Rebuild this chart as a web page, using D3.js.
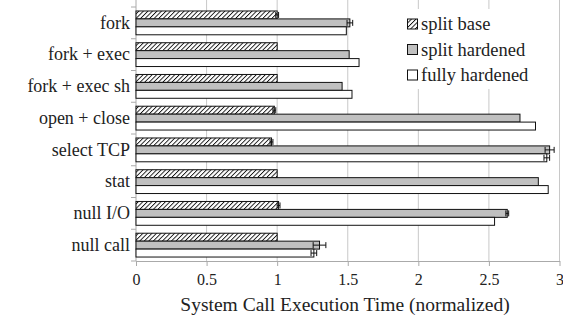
<!DOCTYPE html>
<html>
<head>
<meta charset="UTF-8">
<script src="https://d3js.org/d3.v7.min.js"></script>
</head>
<body style="margin:0">
<svg id="chart" width="563" height="324"></svg>
<script>
const categories = ["fork", "fork + exec", "fork + exec sh", "open + close", "select TCP", "stat", "null I/O", "null call"];
const seriesNames = ["split base", "split hardened", "fully hardened"];
const splitBase = [1.0, 1.0, 1.0, 0.98, 0.96, 1.0, 1.01, 1.0];
const splitBaseErr = [0.01, 0, 0, 0.01, 0.01, 0, 0.01, 0];
const splitHardened = [1.515, 1.51, 1.46, 2.72, 2.93, 2.85, 2.63, 1.30];
const splitHardenedErr = [0.02, 0, 0, 0, 0.032, 0, 0.01, 0.045];
const fullyHardened = [1.49, 1.58, 1.53, 2.83, 2.91, 2.92, 2.54, 1.26];
const fullyHardenedErr = [0, 0, 0, 0, 0.02, 0, 0, 0.02];
const xTicks = [0, 0.5, 1, 1.5, 2, 2.5, 3];

const serif = '"Liberation Serif"';
const svg = d3.select("#chart").style("display", "block");
const mLeft = 136, mRight = 559.5, mTop = 7, mBottom = 261;

// serif text helper
const setFont = (sel, size) => sel
  .attr("font-family", "Liberation Serif")
  .style("font-family", serif, "important")
  .style("font-size", size + "px", "important")
  .attr("fill", "#222");

// hatch pattern for split base
const defs = svg.append("defs");
defs.append("pattern")
    .attr("id", "hatch")
    .attr("patternUnits", "userSpaceOnUse")
    .attr("width", 3.2).attr("height", 3.2)
    .attr("patternTransform", "rotate(45)")
  .call(p => {
    p.append("rect").attr("width", 3.2).attr("height", 3.2).attr("fill", "#fff");
    p.append("line").attr("x1", 0).attr("y1", 0).attr("x2", 0).attr("y2", 3.2)
      .attr("stroke", "#111").attr("stroke-width", 1.8);
  });

const fills = ["url(#hatch)", "#c0c0c0", "#fff"];

const x = d3.scaleLinear().domain([0, 3]).range([mLeft, mRight]);
const y = d3.scaleBand().domain(categories).range([mTop, mBottom])
    .paddingInner(0.25).paddingOuter(0.125);
const ySub = d3.scaleBand().domain(d3.range(3)).range([0, y.bandwidth()]);

// gridlines
svg.append("g").selectAll("line")
  .data(xTicks.filter(d => d > 0))
  .join("line")
    .attr("x1", d => x(d)).attr("x2", d => x(d))
    .attr("y1", 0).attr("y2", mBottom)
    .attr("stroke", "#c8c8c8").attr("stroke-width", 1);

// bottom axis
const xAxis = svg.append("g")
    .attr("transform", `translate(0,${mBottom})`)
    .call(d3.axisBottom(x).tickValues(xTicks).tickFormat(d => d).tickSize(5).tickSizeOuter(0).tickPadding(8));
xAxis.attr("font-family", null).attr("font-size", null);
xAxis.select(".domain").attr("stroke", "#aaa");
xAxis.selectAll(".tick line").attr("stroke", "#aaa");
setFont(xAxis.selectAll("text"), 16);

// left axis
const yAxis = svg.append("g")
    .attr("transform", `translate(${mLeft},0)`)
    .call(d3.axisLeft(y).tickSize(0).tickPadding(6));
yAxis.attr("font-family", null).attr("font-size", null);
yAxis.select(".domain").attr("stroke", "#aaa").attr("d", `M0,0V${mBottom}`);
setFont(yAxis.selectAll("text"), 18);
const step = y.step();
svg.append("g").selectAll("line")
  .data(d3.range(categories.length + 1))
  .join("line")
    .attr("x1", mLeft - 5).attr("x2", mLeft)
    .attr("y1", i => mTop + i * step).attr("y2", i => mTop + i * step)
    .attr("stroke", "#aaa");

// legend box
const legend = svg.append("g");
legend.append("rect").attr("x", 401).attr("y", 9).attr("width", 158).attr("height", 80).attr("fill", "#fff");
seriesNames.forEach((name, i) => {
  const ly = 24 + i * 25.5;
  legend.append("rect").attr("x", 407.5).attr("y", ly - 5).attr("width", 10).attr("height", 10)
    .attr("fill", fills[i]).attr("stroke", "#111").attr("stroke-width", 1);
  setFont(legend.append("text").attr("x", 421).attr("y", ly).attr("dy", "0.35em"), 18.5).text(name);
});

// bars
const series = [
  {values: splitBase, err: splitBaseErr},
  {values: splitHardened, err: splitHardenedErr},
  {values: fullyHardened, err: fullyHardenedErr}
];
const bars = svg.append("g");
series.forEach((s, si) => {
  categories.forEach((c, ci) => {
    const by = y(c) + ySub(si);
    const h = ySub.bandwidth();
    bars.append("rect")
      .attr("x", x(0)).attr("y", by)
      .attr("width", x(s.values[ci]) - x(0)).attr("height", h)
      .attr("fill", fills[si]).attr("stroke", "#111").attr("stroke-width", 1);
    const e = s.err[ci];
    if (e > 0) {
      const x1 = x(s.values[ci] - e), x2 = x(s.values[ci] + e);
      const cy = by + h / 2;
      bars.append("line").attr("x1", x1).attr("x2", x2).attr("y1", cy).attr("y2", cy)
        .attr("stroke", "#111").attr("stroke-width", 1);
      [x1, x2].forEach(xx => bars.append("line")
        .attr("x1", xx).attr("x2", xx).attr("y1", cy - 3).attr("y2", cy + 3)
        .attr("stroke", "#111").attr("stroke-width", 1));
    }
  });
});

// axis title
setFont(svg.append("text")
  .attr("x", 345).attr("y", 311)
  .attr("text-anchor", "middle"), 19.5)
  .text("System Call Execution Time (normalized)");
</script>
</body>
</html>
